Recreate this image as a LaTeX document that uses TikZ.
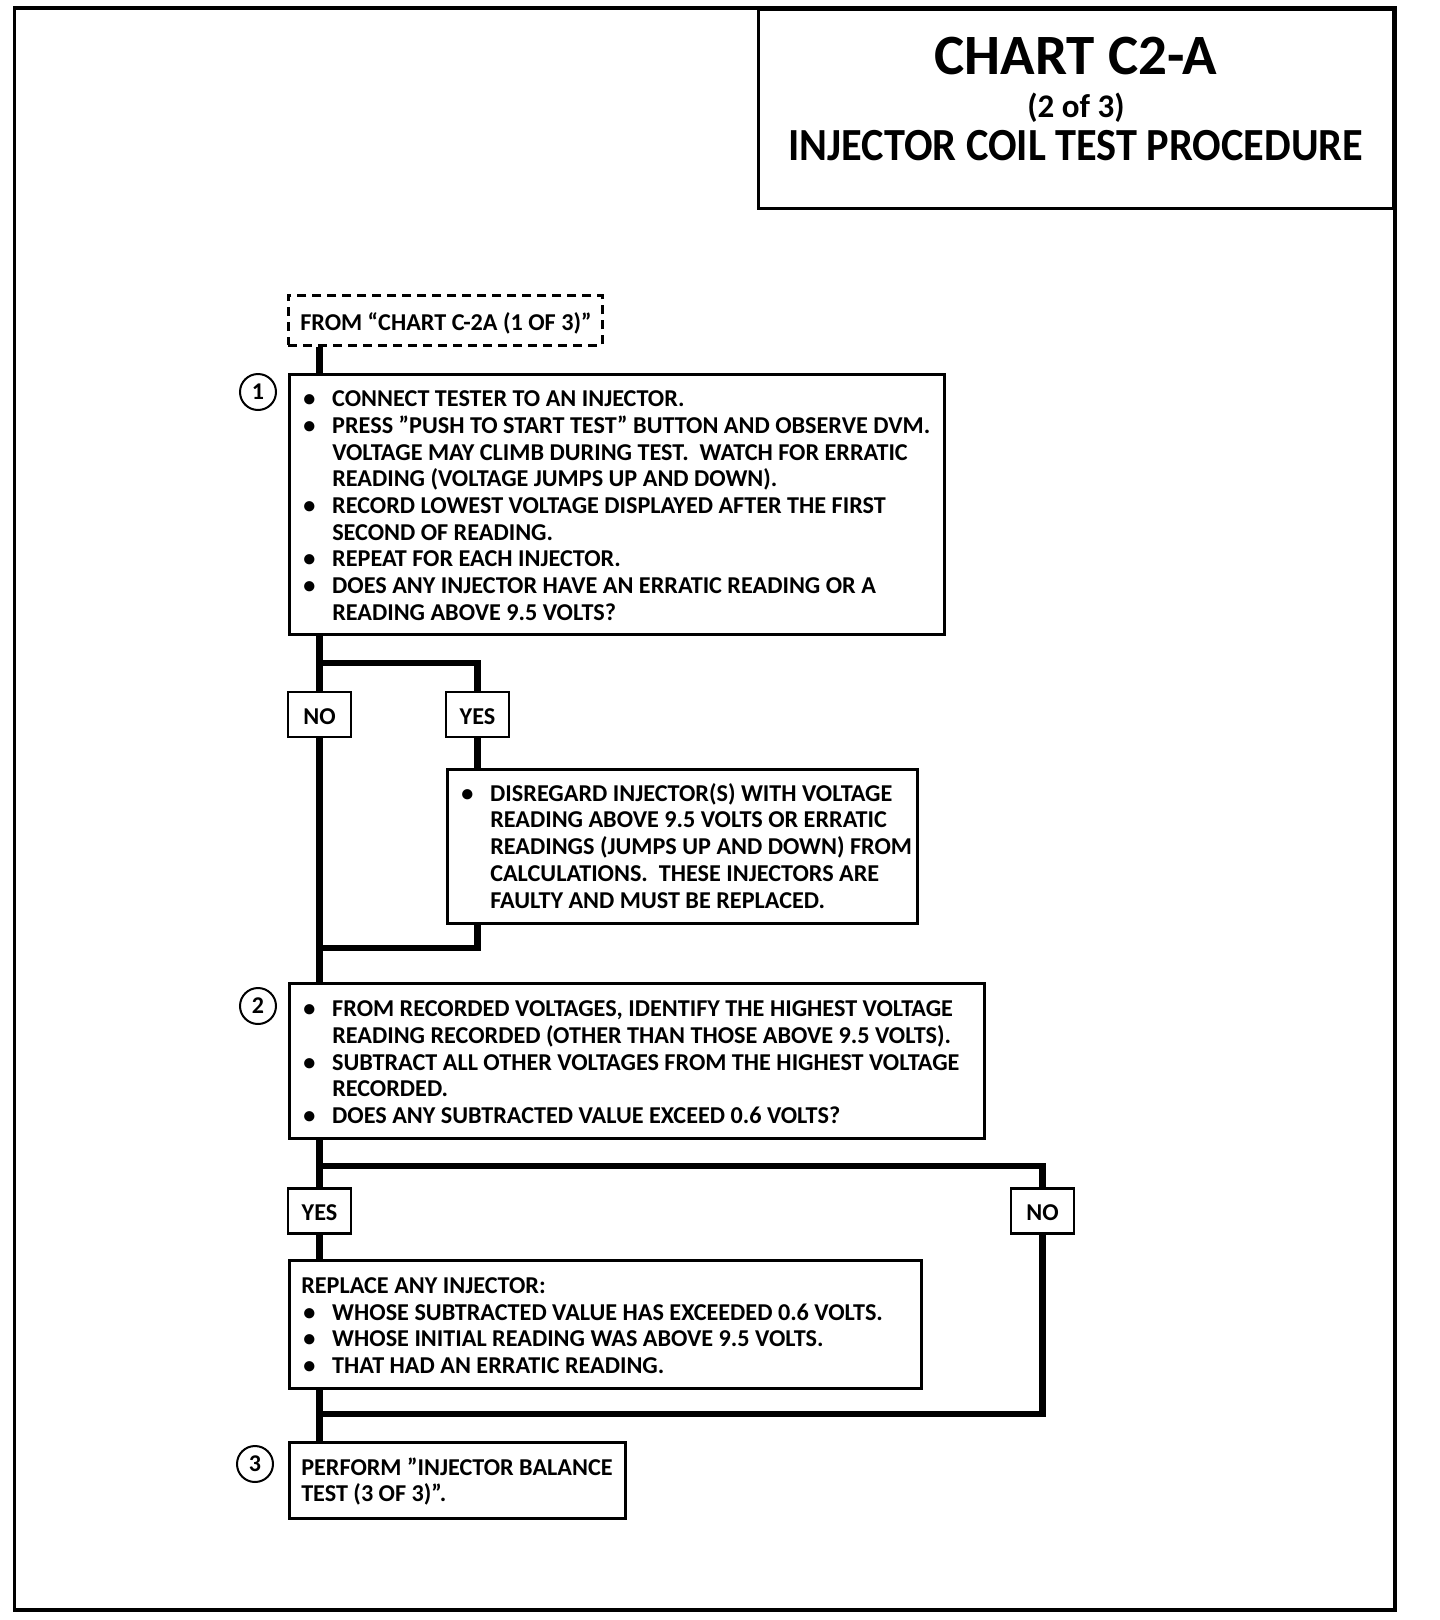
\documentclass[tikz,border=0pt]{standalone}
\usepackage{fontspec}
\setmainfont{Carlito}
\newcommand{\bodyfont}{\fontsize{24.2}{26.7}\selectfont\bfseries}
\newcommand{\bul}{\textbullet}
\newcommand{\dropby}[2]{\raisebox{-#1}[\height][\depth]{#2}}
\newenvironment{blist}{\begin{tabular}{@{}p{29pt}@{}l@{}}}{\end{tabular}}
\begin{document}
\begin{tikzpicture}[x=1pt, y=-1pt,
  stepbox/.style={draw, line width=2.5pt, rectangle, anchor=north west, inner xsep=14pt, inner ysep=0pt, align=left, font=\bodyfont, execute at begin node={\spaceskip=0pt\xspaceskip=0pt}},
  answer/.style={draw, line width=2.5pt, rectangle, minimum width=63pt, minimum height=45pt, inner sep=0pt, font=\bodyfont, fill=white},
  numcirc/.style={draw, line width=2pt, circle, minimum size=36pt, inner sep=0pt, font=\fontsize{24}{24}\selectfont\bfseries},
  flow/.style={line width=6.5pt, line join=miter}]
 \useasboundingbox (0,0) rectangle (1440,1620);
 \draw[line width=3.5pt] (14.5,8) rectangle (1395,1610);
 \node[draw, line width=3pt, anchor=north east, minimum width=635pt, minimum height=199pt, align=center, font=\fontsize{46}{43}\selectfont\bfseries] (title) at (1395,8)
  {\dropby{-4pt}{\begin{tabular}{@{}c@{}}{\fontsize{57}{43}\selectfont CHART C2-A}\\{\fontsize{33}{43}\selectfont (2 of 3)}\\\scalebox{0.92}[1]{INJECTOR COIL TEST PROCEDURE}\end{tabular}}};

 \node[stepbox, dashed, dash pattern=on 9pt off 6pt, inner xsep=12pt, text width=290pt, minimum height=50pt] (from) at (287,294)
  {\dropby{3pt}{FROM “CHART C-2A (1 OF 3)”}};
 \node[stepbox, text width=627pt, minimum height=260pt] (b1) at (288,373)
  {\dropby{4pt}{\begin{blist}
   \bul & CONNECT TESTER TO AN INJECTOR.\\
   \bul & PRESS "PUSH TO START TEST" BUTTON AND OBSERVE DVM.\\
        & VOLTAGE MAY CLIMB DURING TEST.\ \ WATCH FOR ERRATIC\\
        & READING (VOLTAGE JUMPS UP AND DOWN).\\
   \bul & RECORD LOWEST VOLTAGE DISPLAYED AFTER THE FIRST\\
        & SECOND OF READING.\\
   \bul & REPEAT FOR EACH INJECTOR.\\
   \bul & DOES ANY INJECTOR HAVE AN ERRATIC READING OR A\\
        & READING ABOVE 9.5 VOLTS?
  \end{blist}}};
 \node[numcirc] (n1) at (258,392) {1};

 \node[answer] (no1) at (319.5,714.5) {\dropby{2pt}{NO}};
 \node[answer] (yes1) at (477.5,714.5) {\dropby{2pt}{YES}};
 \node[stepbox, text width=442pt, minimum height=154pt] (dis) at (446,768)
  {\dropby{3pt}{\begin{blist}
   \bul & DISREGARD INJECTOR(S) WITH VOLTAGE\\
        & READING ABOVE 9.5 VOLTS OR ERRATIC\\
        & READINGS (JUMPS UP AND DOWN) FROM\\
        & CALCULATIONS.\ \ THESE INJECTORS ARE\\
        & FAULTY AND MUST BE REPLACED.
  \end{blist}}};

 \node[stepbox, text width=667pt, minimum height=155pt] (b2) at (288,982)
  {\dropby{4pt}{\begin{blist}
   \bul & FROM RECORDED VOLTAGES, IDENTIFY THE HIGHEST VOLTAGE\\
        & READING RECORDED (OTHER THAN THOSE ABOVE 9.5 VOLTS).\\
   \bul & SUBTRACT ALL OTHER VOLTAGES FROM THE HIGHEST VOLTAGE\\
        & RECORDED.\\
   \bul & DOES ANY SUBTRACTED VALUE EXCEED 0.6 VOLTS?
  \end{blist}}};
 \node[numcirc] (n2) at (258,1006) {2};

 \node[answer] (yes2) at (319.5,1211) {\dropby{2pt}{YES}};
 \node[answer] (no2) at (1042.5,1211) {\dropby{2pt}{NO}};
 \node[stepbox, text width=604pt, minimum height=128pt] (rep) at (288,1259)
  {\dropby{4pt}{\begin{blist}
   \multicolumn{2}{@{}l@{}}{\hspace*{-2pt}REPLACE ANY INJECTOR:}\\
   \bul & WHOSE SUBTRACTED VALUE HAS EXCEEDED 0.6 VOLTS.\\
   \bul & WHOSE INITIAL READING WAS ABOVE 9.5 VOLTS.\\
   \bul & THAT HAD AN ERRATIC READING.
  \end{blist}}};

 \node[stepbox, inner xsep=12pt, text width=312pt, minimum height=76pt] (b3) at (288,1441)
  {\dropby{3pt}{\begin{tabular}{@{}l@{}}PERFORM "INJECTOR BALANCE\\TEST (3 OF 3)".\end{tabular}}};
 \node[numcirc] (n3) at (255,1464) {3};

 \coordinate (s1) at (319.5,663);
 \coordinate (j1) at (319.5,948);
 \coordinate (s2) at (319.5,1166);
 \coordinate (j2) at (319.5,1414);
 \draw[flow] (from.south -| no1) -- (b1.north -| no1);
 \draw[flow] (b1.south -| no1) -- (no1.north);
 \draw[flow] (s1) -| (yes1.north);
 \draw[flow] (yes1.south) -- (dis.north -| yes1);
 \draw[flow] (dis.south -| yes1) |- (j1);
 \draw[flow] (no1.south) -- (b2.north -| no1);
 \draw[flow] (b2.south -| no1) -- (yes2.north);
 \draw[flow] (s2) -| (no2.north);
 \draw[flow] (yes2.south) -- (rep.north -| yes2);
 \draw[flow] (no2.south) |- (j2);
 \draw[flow] (rep.south -| yes2) -- (b3.north -| yes2);
\end{tikzpicture}
\end{document}
